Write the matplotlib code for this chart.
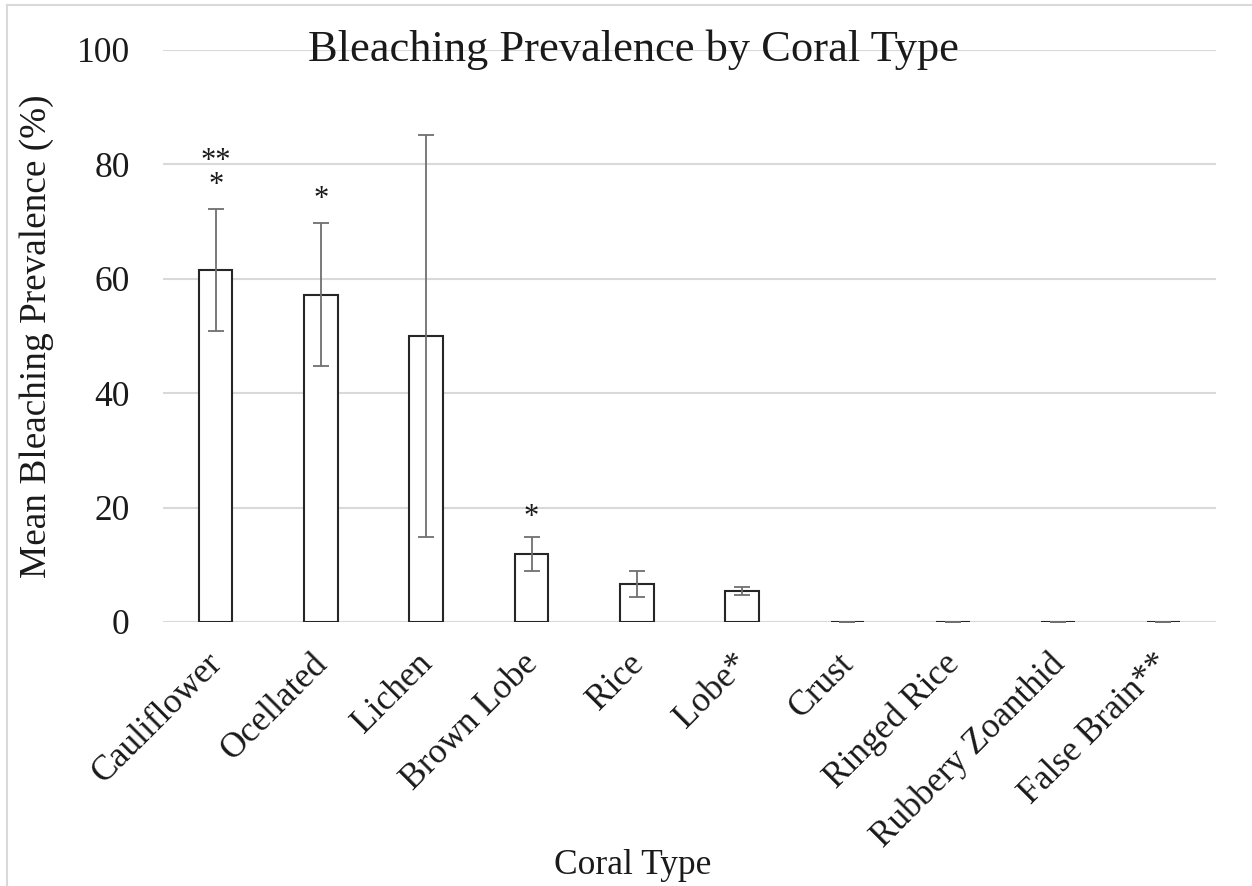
import matplotlib.pyplot as plt
from matplotlib.lines import Line2D
from matplotlib.transforms import ScaledTranslation

#----- Data -----
coral_types = ["Cauliflower", "Ocellated", "Lichen", "Brown Lobe", "Rice", "Lobe*",
               "Crust", "Ringed Rice", "Rubbery Zoanthid", "False Brain**"]
mean_bleaching = [61.5, 57.2, 50.0, 11.9, 6.6, 5.4, 0, 0, 0, 0]
std_err = [10.7, 12.5, 35.2, 2.9, 2.25, 0.7, 0, 0, 0, 0]
# significance markers above bars: (bar index, marker text, baseline y value)
sig_marks = [(0, "**\n*", 75.0), (1, "*", 72.6), (3, "*", 17.0)]

#----- Plot graph -----
plt.rcParams.update({"font.family": "Liberation Serif", "font.size": 25.5})
text_col = "#1a1a1a"

fig = plt.figure(figsize=(12.52, 8.86), dpi=100)
ax = fig.add_axes([163/1252, 1-622/886, (1216-163)/1252, (622-50)/886])

x = range(len(coral_types))
ax.bar(x, mean_bleaching, width=0.32, color="white", edgecolor="#262626", linewidth=1.5, zorder=3)
ax.errorbar(x, mean_bleaching, yerr=std_err, fmt="none", ecolor="#707070",
            elinewidth=1.3, capsize=5.5, capthick=1.3, zorder=4)

for i, txt, yv in sig_marks:
    ax.text(i, yv, txt, ha="center", va="baseline", multialignment="center",
            linespacing=0.78, color=text_col, fontsize=22)

ax.set_xlim(-0.5, len(coral_types) - 0.5)
ax.set_ylim(0, 100)
ax.set_yticks([0, 20, 40, 60, 80, 100])
ax.yaxis.grid(True, color="#d9d9d9", linewidth=1.5, zorder=0)
ax.set_axisbelow(True)
for s in ax.spines.values():
    s.set_visible(False)
ax.tick_params(axis="y", length=0, pad=24, colors=text_col)
ax.tick_params(axis="x", length=0, pad=18, colors=text_col)
ax.set_xticks(list(x))
ax.set_xticklabels(coral_types, rotation=45, ha="right", rotation_mode="anchor")
shift = ScaledTranslation(-10/100, 0, fig.dpi_scale_trans)
for lab in ax.get_xticklabels():
    lab.set_transform(lab.get_transform() + shift)

ax.set_ylabel("Mean Bleaching Prevalence (%)", color=text_col, labelpad=16, fontsize=26.8)
fig.text(633/1252, 1-50/886, "Bleaching Prevalence by Coral Type", ha="center", va="center",
         color=text_col, fontsize=32)
fig.text(633/1252, 1-865/886, "Coral Type", ha="center", va="center", color=text_col)

# light frame round the chart (top and left edges visible)
fig.add_artist(Line2D([7/1252, 7/1252], [0, 1-5/886], transform=fig.transFigure, color="#d9d9d9", lw=1.5))
fig.add_artist(Line2D([7/1252, 1], [1-5/886, 1-5/886], transform=fig.transFigure, color="#d9d9d9", lw=1.5))

plt.savefig("out.png", dpi=100)
